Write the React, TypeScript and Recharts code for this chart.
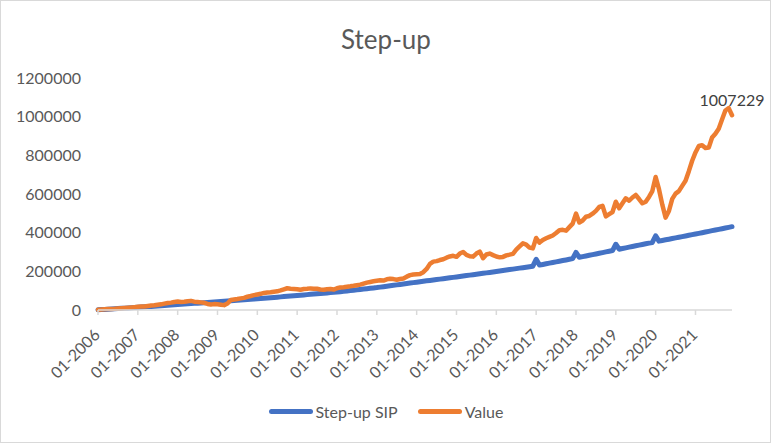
import React from "react";
import { LineChart, Line, XAxis, YAxis, Legend } from "recharts";

const years = [
  2006, 2007, 2008, 2009, 2010, 2011, 2012, 2013, 2014, 2015, 2016, 2017,
  2018, 2019, 2020, 2021,
];
const monthCodes = ["01", "02", "03", "04", "05", "06", "07", "08", "09", "10", "11", "12"];
const monthLabels = years.flatMap((y) => monthCodes.map((m) => `${m}-${y}`));

// cumulative amount invested (Step-up SIP), one row per year
const sipSeries = [
  1000, 2100, 3200, 4300, 5300, 6400, 7500, 8600, 9700, 10700, 11800, 12900,
  14000, 15200, 16300, 17500, 18700, 19800, 21000, 22200, 23300, 24500, 25700, 26800,
  28000, 29300, 30500, 31800, 33000, 34300, 35500, 36800, 38000, 39300, 40500, 41800,
  43000, 44300, 45500, 46800, 48000, 49300, 50500, 51800, 53000, 54300, 55500, 56800,
  58000, 59400, 60800, 62300, 63700, 65100, 66500, 67900, 69300, 70800, 72200, 73600,
  75000, 76500, 78000, 79500, 81000, 82500, 84000, 85500, 87000, 88500, 90000, 91500,
  93000, 94900, 96800, 98800, 100700, 102600, 104500, 106400, 108300, 110300, 112200, 114100,
  116000, 118300, 120700, 123000, 125300, 127700, 130000, 132300, 134700, 137000, 139300, 141700,
  144000, 146300, 148500, 150800, 153000, 155300, 157500, 159800, 162000, 164300, 166500, 168800,
  171000, 173300, 175700, 178000, 180300, 182700, 185000, 187300, 189700, 192000, 194300, 196700,
  199000, 201500, 204000, 206500, 209000, 211500, 214000, 216500, 219000, 221500, 224000, 226500,
  262000, 232300, 235700, 239000, 242300, 245700, 249000, 252300, 255700, 259000, 262300, 265700,
  298000, 272500, 276000, 279500, 283000, 286500, 290000, 293500, 297000, 300500, 304000, 307500,
  340000, 314500, 318000, 321500, 325000, 328500, 332000, 335500, 339000, 342500, 346000, 349500,
  384000, 356300, 359700, 363000, 366300, 369700, 373000, 376300, 379700, 383000, 386300, 389700,
  393000, 396500, 399900, 403400, 406800, 410300, 413700, 417200, 420600, 424100, 427500, 431000,
];

// portfolio value, one row per year
const valueSeries = [
  1000, 2100, 3300, 4600, 5200, 6000, 7400, 8600, 10100, 11800, 13200, 14900,
  16500, 17800, 18400, 20500, 22800, 24300, 26900, 29200, 32800, 36500, 38200, 41500,
  43800, 41200, 42500, 45600, 47200, 43100, 41800, 39500, 37200, 31500, 28600, 30400,
  29800, 27500, 25200, 33400, 51800, 54600, 56900, 60200, 62800, 68500, 72400, 76800,
  80500, 83600, 88200, 90400, 92100, 94800, 96500, 101200, 106800, 112500, 109800, 108600,
  107200, 104500, 108300, 109600, 111800, 110200, 109500, 106200, 104800, 107500, 108900, 105600,
  112400, 116800, 118200, 120500, 122600, 125300, 128400, 131200, 136500, 141800, 145200, 148500,
  151200, 153500, 152400, 158600, 161200, 159800, 156400, 160500, 163200, 172500, 180400, 183600,
  184800, 186200, 195500, 212400, 238600, 250200, 252800, 258400, 262500, 270600, 276800, 280200,
  275000, 292000, 300000, 285000, 278000, 276000, 292000, 302000, 268000, 287000, 292000, 284000,
  276500, 272400, 274600, 282500, 286200, 290400, 312500, 328600, 345200, 338500, 322400, 318600,
  372500, 348600, 362500, 371200, 378400, 385600, 398200, 412500, 414800, 410200, 428500, 446800,
  498500, 452400, 462800, 482500, 486400, 498200, 512600, 532800, 538400, 484500, 495600, 506800,
  560000, 526000, 552000, 578000, 565000, 582000, 595000, 574000, 552000, 560000, 585000, 615000,
  688000, 625000, 545000, 478000, 512000, 575000, 602000, 615000, 642000, 668000, 718000, 772000,
  815000, 848000, 852000, 838000, 840000, 892000, 912000, 938000, 985000, 1032000, 1044000, 1007229,
];

const yTicks = [0, 200000, 400000, 600000, 800000, 1000000, 1200000];

const data = monthLabels.map((month, i) => ({
  month,
  sip: sipSeries[i],
  value: valueSeries[i],
}));

const BLUE = "#4472C4";
const ORANGE = "#ED7D31";
const TEXT = "#595959";
const FONT = "Lato, 'Open Sans', sans-serif";

function MonthTick({ x, y, payload }: any) {
  const ax = x + 3;
  const ay = y + 21;
  return (
    <text
      x={ax}
      y={ay}
      transform={`rotate(-45 ${ax} ${ay})`}
      textAnchor="end"
      fill={TEXT}
      fontSize={16}
      fontFamily={FONT}
    >
      {payload.value}
    </text>
  );
}

function AmountTick({ x, y, payload }: any) {
  return (
    <text x={x} y={y} dy="0.36em" textAnchor="end" fill={TEXT} fontSize={16} fontFamily={FONT}>
      {payload.value}
    </text>
  );
}

function lastPointLabel(props: any) {
  const { x, y, index, value } = props;
  if (index !== valueSeries.length - 1) return null;
  return (
    <text x={x} y={y - 9} textAnchor="middle" fill="#404040" fontSize={16} fontFamily={FONT}>
      {value}
    </text>
  );
}

function LegendBox() {
  const items = [
    { name: "Step-up SIP", color: BLUE },
    { name: "Value", color: ORANGE },
  ];
  return (
    <div
      style={{
        display: "flex",
        justifyContent: "center",
        alignItems: "center",
        height: 30,
        gap: 20,
        fontFamily: FONT,
        fontSize: 16,
        color: TEXT,
      }}
    >
      {items.map((it) => (
        <div key={it.name} style={{ display: "flex", alignItems: "center" }}>
          <span
            style={{
              display: "inline-block",
              width: 44,
              height: 5,
              borderRadius: 3,
              background: it.color,
              marginRight: 3,
            }}
          />
          <span>{it.name}</span>
        </div>
      ))}
    </div>
  );
}

export default function App() {
  return (
    <div style={{ position: "relative", width: 772, height: 444, background: "#fff", fontFamily: FONT }}>
      <style>{`body { margin: 0; }`}</style>
      <div
        style={{
          position: "absolute",
          left: 0,
          top: 0,
          width: 771,
          height: 443,
          boxSizing: "border-box",
          border: "1px solid #d9d9d9",
        }}
      />
      <div
        style={{
          position: "absolute",
          top: 23,
          left: 0,
          width: 772,
          textAlign: "center",
          fontSize: 26,
          lineHeight: "32px",
          color: TEXT,
        }}
      >
        Step-up
      </div>
      <div style={{ position: "absolute", left: 0, top: 0 }}>
        <LineChart
          width={772}
          height={444}
          data={data}
          margin={{ top: 78, right: 40, bottom: 0, left: 0 }}
        >
          <XAxis
            dataKey="month"
            interval={11}
            height={134}
            tick={<MonthTick />}
            tickSize={5}
            tickMargin={0}
            axisLine={{ stroke: "#d9d9d9", strokeWidth: 1.5 }}
            tickLine={{ stroke: "#d9d9d9", strokeWidth: 1.5 }}
          />
          <YAxis
            width={98}
            domain={[0, 1200000]}
            ticks={yTicks}
            axisLine={false}
            tickLine={false}
            tickSize={0}
            tickMargin={17}
            tick={<AmountTick />}
          />
          <Legend
            layout="horizontal"
            verticalAlign="middle"
            align="center"
            wrapperStyle={{ top: 396, left: 0, width: 772, height: 30 }}
            content={() => <LegendBox />}
          />
          <Line
            dataKey="sip"
            name="Step-up SIP"
            type="linear"
            stroke={BLUE}
            strokeWidth={5}
            strokeLinejoin="round"
            strokeLinecap="round"
            dot={false}
            isAnimationActive={false}
          />
          <Line
            dataKey="value"
            name="Value"
            type="linear"
            stroke={ORANGE}
            strokeWidth={4.5}
            strokeLinejoin="round"
            strokeLinecap="round"
            dot={false}
            label={lastPointLabel}
            isAnimationActive={false}
          />
        </LineChart>
      </div>
    </div>
  );
}
